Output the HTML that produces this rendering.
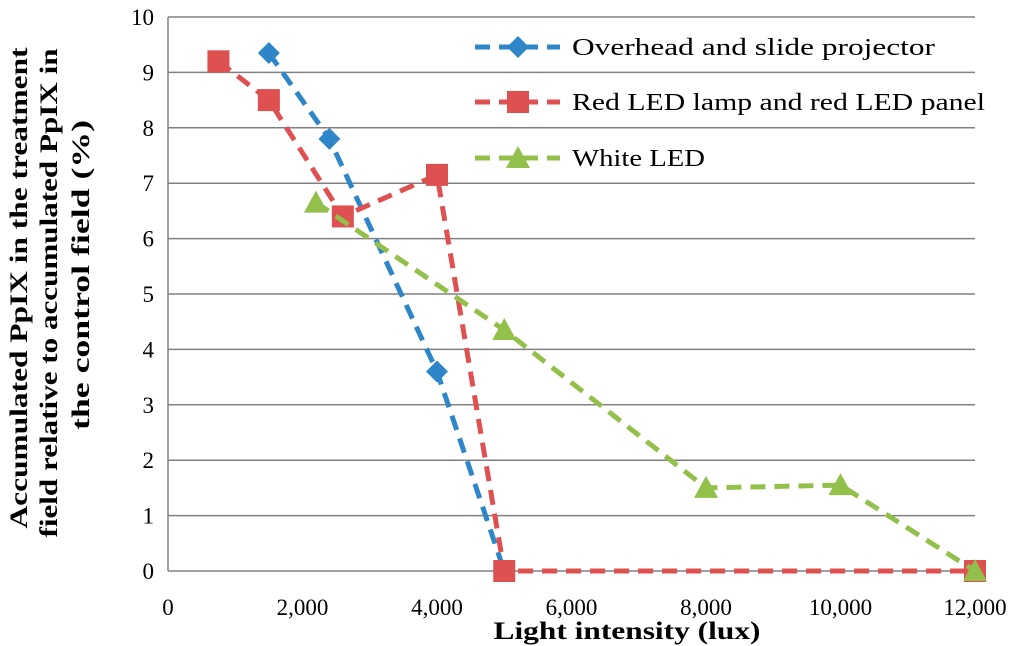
<!DOCTYPE html>
<html><head><meta charset="utf-8">
<style>
html,body{margin:0;padding:0;background:#fff;}
svg{display:block;font-family:"Liberation Serif",serif;}
</style></head>
<body>
<svg id="chart" width="1024" height="646" xmlns="http://www.w3.org/2000/svg">
<g id="grid"></g>
<g id="axes"></g>
<g id="series"></g>
<g id="legend"></g>
<text x="627" y="639" text-anchor="middle" font-size="25" font-weight="bold" textLength="267" lengthAdjust="spacingAndGlyphs">Light intensity (lux)</text>
<g transform="rotate(-90)" font-size="25" font-weight="bold" text-anchor="middle">
<text x="-288" y="27" textLength="481" lengthAdjust="spacingAndGlyphs">Accumulated PpIX in the treatment</text>
<text x="-293" y="57" textLength="489" lengthAdjust="spacingAndGlyphs">field relative to accumulated PpIX in</text>
<text x="-275" y="89" textLength="310" lengthAdjust="spacingAndGlyphs">the control field  (%)</text>
</g>
</svg>
<script>
const xTicks=[0,2000,4000,6000,8000,10000,12000];
const xTickLabels=["0","2,000","4,000","6,000","8,000","10,000","12,000"];
const yTicks=[0,1,2,3,4,5,6,7,8,9,10];
const seriesNames=["Overhead and slide projector","Red LED lamp and red LED panel","White LED"];
const blueX=[1500,2400,4000,5000];
const blueY=[9.35,7.8,3.6,0];
const redX=[750,1500,2600,4000,5000,12000];
const redY=[9.2,8.5,6.4,7.15,0,0];
const greenX=[2200,5000,8000,10000,12000];
const greenY=[6.65,4.35,1.5,1.55,0];

const X0=168,X1=975,Y0=571,Y1=17;
const sx=v=>X0+(v/12000)*(X1-X0);
const sy=v=>Y0-(v/10)*(Y0-Y1);
const NS="http://www.w3.org/2000/svg";
function mk(tag,attrs,parent){const e=document.createElementNS(NS,tag);for(const k in attrs)e.setAttribute(k,attrs[k]);parent.appendChild(e);return e;}
const grid=document.getElementById('grid'),axes=document.getElementById('axes'),ser=document.getElementById('series'),leg=document.getElementById('legend');
yTicks.forEach(t=>{
  const l=mk('line',{x1:X0,x2:X1,y1:sy(t),y2:sy(t),stroke:'#808080','stroke-width':1.5},grid);
  
  
  const tx=mk('text',{x:X0-14,y:sy(t)+8,'text-anchor':'end','font-size':23},axes);
  tx.textContent=t;
  
  
});
const ax=mk('line',{x1:X0,x2:X0,y1:Y1,y2:Y0,stroke:'#808080','stroke-width':1.5},axes);


xTicks.forEach((t,i)=>{
  const tx=mk('text',{x:sx(t),y:615,'text-anchor':'middle','font-size':23},axes);
  tx.textContent=xTickLabels[i];
  
  
});
function marker(type,x,y,color,parent){
  let e;
  if(type==='diamond') e=mk('polygon',{points:`${x},${y-11} ${x+11},${y} ${x},${y+11} ${x-11},${y}`,fill:color},parent);
  else if(type==='square') e=mk('rect',{x:x-11,y:y-11,width:22,height:22,fill:color},parent);
  else e=mk('polygon',{points:`${x},${y-12} ${x+12},${y+10} ${x-12},${y+10}`,fill:color},parent);
  return e;
}
function drawSeries(xs,ys,color,type,name){
  const g=mk('g',{},ser);
  
  
  const pts=xs.map((x,i)=>sx(x)+','+sy(ys[i])).join(' ');
  mk('polyline',{points:pts,fill:'none',stroke:color,'stroke-width':5,'stroke-dasharray':'15,9'},g);
  xs.forEach((x,i)=>{
    const m=marker(type,sx(x),sy(ys[i]),color,g);
    
    
  });
}
drawSeries(blueX,blueY,'#2e86c8','diamond','series-overhead-projector');
drawSeries(redX,redY,'#de5150','square','series-red-led');
drawSeries(greenX,greenY,'#93c04a','triangle','series-white-led');
const legColors=['#2e86c8','#de5150','#93c04a'],legTypes=['diamond','square','triangle'],legY=[47,102,158],legLen=[363,413,133];
seriesNames.forEach((n,i)=>{
  const g=mk('g',{},leg);
  
  
  mk('line',{x1:475,x2:560,y1:legY[i],y2:legY[i],stroke:legColors[i],'stroke-width':5,'stroke-dasharray':'15,9'},g);
  marker(legTypes[i],518,legY[i],legColors[i],g);
  const t=mk('text',{x:572,y:legY[i]+8,'font-size':24,textLength:legLen[i],lengthAdjust:'spacingAndGlyphs'},g);
  t.textContent=n;
});
</script>
</body></html>
